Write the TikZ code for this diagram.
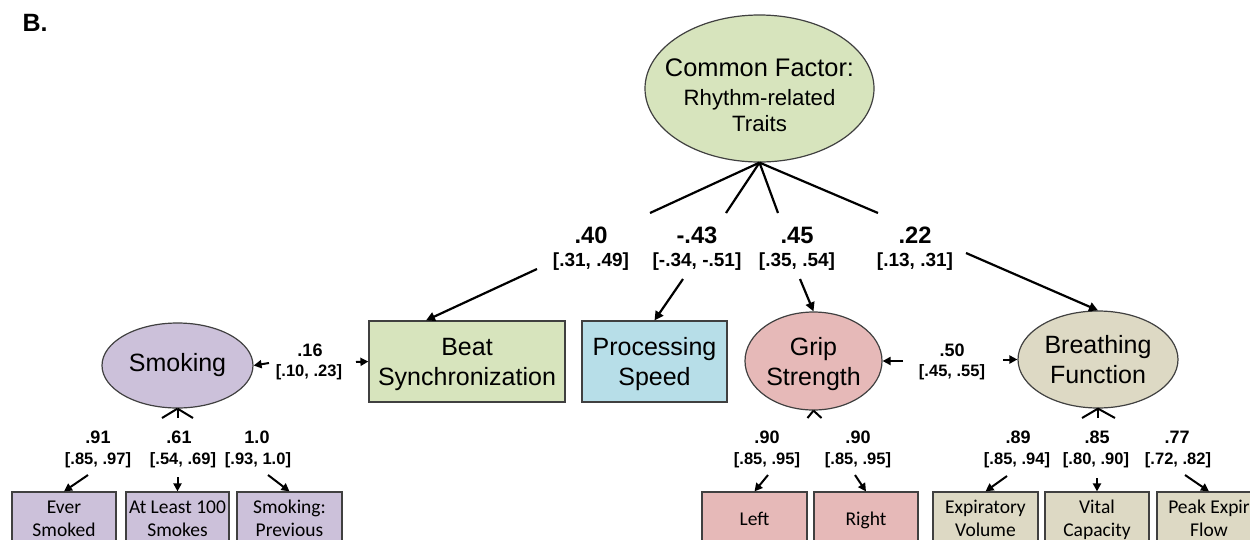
\documentclass[tikz,border=0pt]{standalone}
\usepackage{fontspec}
\setmainfont{Liberation Sans}
\newfontfamily\calib{Carlito}
\usetikzlibrary{shapes.geometric,arrows.meta}
\definecolor{cgreen}{HTML}{D7E4BD}
\definecolor{cblue}{HTML}{B7DEE8}
\definecolor{cpurple}{HTML}{CCC1DA}
\definecolor{cpink}{HTML}{E6B9B8}
\definecolor{ctan}{HTML}{DDD9C4}
\definecolor{cedge}{HTML}{404040}
\begin{document}
\begin{tikzpicture}[x=1pt,y=-1pt,
  lat/.style={ellipse, draw=cedge, line width=1.2pt, inner sep=0pt},
  obs/.style={rectangle, draw=cedge, line width=1.2pt, inner sep=0pt},
  bigtxt/.style={font=\fontsize{25}{30}\selectfont, align=center},
  ind/.style={obs, minimum height=53pt, minimum width=104pt, text depth=0pt,
    font=\calib\fontsize{19.5}{23}\selectfont, align=center},
  tval/.style={font=\bfseries\fontsize{23.7}{28}\selectfont, inner sep=0pt},
  tci/.style={font=\bfseries\fontsize{19}{22}\selectfont, inner sep=0pt},
  val/.style={font=\bfseries\fontsize{18}{21}\selectfont, inner sep=0pt},
  ci/.style={font=\bfseries\fontsize{16.5}{19}\selectfont, inner sep=0pt},
  loadarr/.style={line width=2.2pt, -{Triangle[length=9pt,width=9pt]}},
  segline/.style={line width=2.2pt},
  smallarr/.style={line width=2pt, -{Triangle[length=8pt,width=8pt]}},
  stubline/.style={line width=2pt},
]
\useasboundingbox (0,0) rectangle (1250,539);
\fill[white] (0,0) rectangle (1250,539);
\clip (0,0) rectangle (1250,539);

% title
\node[font=\bfseries\fontsize{25}{30}\selectfont, inner sep=0pt] (title) at (35,22.5) {B.};

% common factor
\node[lat, fill=cgreen, minimum width=229pt, minimum height=147pt] (cf) at (759.5,88.5) {};
\node[font=\fontsize{22.2}{26}\selectfont, align=center, inner sep=0pt] (cftxt) at (759.5,95.5)
  {{\fontsize{25.4}{29}\selectfont Common Factor:}\\[3pt]Rhythm-related\\Traits};

% second level
\node[lat, fill=cpurple, minimum width=151pt, minimum height=85pt, bigtxt] (smoking) at (177.5,365.5) {Smoking};
\node[obs, fill=cgreen, minimum width=196pt, minimum height=81pt, bigtxt, text depth=0pt] (beat) at (467,361.5) {Beat\\Synchronization};
\node[obs, fill=cblue, minimum width=145pt, minimum height=81pt, bigtxt, text depth=0pt] (proc) at (654.5,361.5) {Processing\\Speed};
\node[lat, fill=cpink, minimum width=137pt, minimum height=98pt, bigtxt, text depth=0pt] (grip) at (813.5,361) {Grip\\Strength};
\node[lat, fill=ctan, minimum width=160pt, minimum height=97pt, bigtxt, text depth=0pt] (breath) at (1098,359.5) {Breathing\\Function};

% indicators
\node[ind, fill=cpurple] (ever) at (64,518.5) {Ever\\Smoked};
\node[ind, fill=cpurple, minimum width=103pt] (atleast) at (177.5,518.5) {At Least 100\\Smokes};
\node[ind, fill=cpurple, minimum width=105pt] (prev) at (289.5,518.5) {Smoking:\\Previous};
\node[ind, fill=cpink, minimum width=105pt] (left) at (754.5,518.5) {Left};
\node[ind, fill=cpink] (right) at (866,518.5) {Right};
\node[ind, fill=ctan, minimum width=105pt] (exp) at (985.5,518.5) {Expiratory\\Volume};
\node[ind, fill=ctan] (vital) at (1097,518.5) {Vital\\Capacity};
\node[ind, fill=ctan] (peak) at (1209,518.5) {Peak Expir\\Flow};

% top loading labels
\node[tval] (v1) at (591,235) {.40};
\node[tci]  (c1) at (591,262) {[.31, .49]};
\node[tval] (v2) at (697,235) {-.43};
\node[tci]  (c2) at (697,262) {[-.34, -.51]};
\node[tval] (v3) at (797,235) {.45};
\node[tci]  (c3) at (797,262) {[.35, .54]};
\node[tval] (v4) at (915,235) {.22};
\node[tci]  (c4) at (915,262) {[.13, .31]};

% covariance labels
\node[val] (v16) at (310,350) {.16};
\node[ci]  (c16) at (309,372) {[.10, .23]};
\node[val] (v50) at (952,350) {.50};
\node[ci]  (c50) at (952,372) {[.45, .55]};

% indicator loading labels
\node[val] (vs1) at (98,437) {.91};
\node[ci]  (cs1) at (98,460) {[.85, .97]};
\node[val] (vs2) at (179,437) {.61};
\node[ci]  (cs2) at (183,460) {[.54, .69]};
\node[val] (vs3) at (257,437) {1.0};
\node[ci]  (cs3) at (258,460) {[.93, 1.0]};
\node[val] (vg1) at (767,437) {.90};
\node[ci]  (cg1) at (767,460) {[.85, .95]};
\node[val] (vg2) at (858,437) {.90};
\node[ci]  (cg2) at (858,460) {[.85, .95]};
\node[val] (vb1) at (1018,437) {.89};
\node[ci]  (cb1) at (1017,460) {[.85, .94]};
\node[val] (vb2) at (1097,437) {.85};
\node[ci]  (cb2) at (1096,460) {[.80, .90]};
\node[val] (vb3) at (1177,437) {.77};
\node[ci]  (cb3) at (1178,460) {[.72, .82]};

% coordinates for broken paths
\coordinate (u1) at (650,213);
\coordinate (u2) at (726,213);
\coordinate (u3) at (778,213);
\coordinate (u4) at (878,213);
\coordinate (l1) at (537,269);
\coordinate (l2) at (683,279);
\coordinate (l3) at (800,279);
\coordinate (l4) at (966,253);

\draw[segline] (cf.south) -- (u1);
\draw[segline] (cf.south) -- (u2);
\draw[segline] (cf.south) -- (u3);
\draw[segline] (cf.south) -- (u4);
\draw[loadarr] (l1) -- ([xshift=-41pt]beat.north);
\draw[loadarr] (l2) -- (proc.north);
\draw[loadarr] (l3) -- (grip.north);
\draw[loadarr] (l4) -- (breath.north);

% covariances
\coordinate (k1) at (269,363);
\coordinate (k2) at (356,362);
\coordinate (k3) at (903,361);
\coordinate (k4) at (1003,359.5);
\draw[smallarr] (k1) -- (smoking.east);
\draw[smallarr] (k2) -- (beat.west);
\draw[smallarr] (k3) -- (grip.east);
\draw[smallarr] (k4) -- (breath.west);

% stubs under latent factors
\coordinate (s1) at (162,418);
\coordinate (s2) at (177.5,418);
\coordinate (s3) at (193,418);
\coordinate (g1) at (807.5,418);
\coordinate (g2) at (821.5,418);
\coordinate (b1) at (1082,418);
\coordinate (b2) at (1098,418);
\coordinate (b3) at (1115,418);
\draw[stubline] (smoking.south) -- (s1);
\draw[stubline] (smoking.south) -- (s2);
\draw[stubline] (smoking.south) -- (s3);
\draw[stubline] (grip.south) -- (g1);
\draw[stubline] (grip.south) -- (g2);
\draw[stubline] (breath.south) -- (b1);
\draw[stubline] (breath.south) -- (b2);
\draw[stubline] (breath.south) -- (b3);

% indicator arrows
\coordinate (a1) at (88,475);
\coordinate (a2) at (177.5,477);
\coordinate (a3) at (268,475);
\coordinate (a4) at (768,475);
\coordinate (a5) at (855,475);
\coordinate (a6) at (1007,476);
\coordinate (a7) at (1097,478);
\coordinate (a8) at (1185,475);
\draw[smallarr] (a1) -- (ever.north);
\draw[smallarr] (a2) -- (atleast.north);
\draw[smallarr] (a3) -- (prev.north);
\draw[smallarr] (a4) -- (left.north);
\draw[smallarr] (a5) -- (right.north);
\draw[smallarr] (a6) -- (exp.north);
\draw[smallarr] (a7) -- (vital.north);
\draw[smallarr] (a8) -- (peak.north);
\end{tikzpicture}
\end{document}
